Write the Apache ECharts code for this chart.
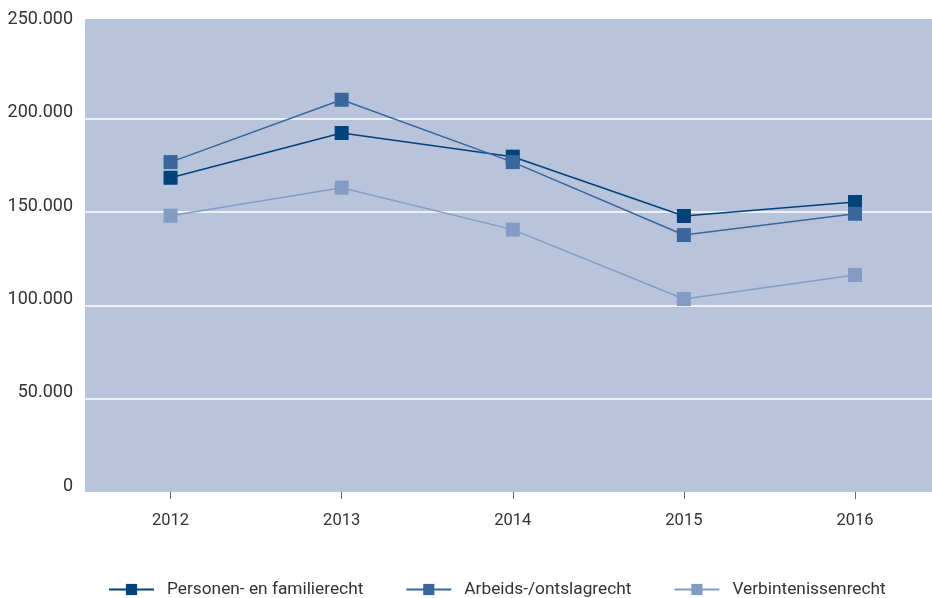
<!DOCTYPE html>
<html><head><meta charset="utf-8">
<script src="https://cdn.jsdelivr.net/npm/echarts@6/dist/echarts.min.js"></script>
<style>html,body{margin:0;padding:0;background:#fff}#c{width:932px;height:598px}</style>
</head><body><div id="c"></div>
<script>
const years = [2012, 2013, 2014, 2015, 2016];
const personen = [168400, 192400, 179700, 147900, 155400];
const arbeids = [176800, 210200, 176800, 137700, 149100];
const verbintenissen = [148100, 163100, 140600, 103400, 116300];
const seriesNames = ['Personen- en familierecht','Arbeids-/ontslagrecht','Verbintenissenrecht'];
const colors = ['#00427a','#3a679b','#849cc3'];
const FONT = '"Roboto", "Liberation Sans", sans-serif';
const chart = echarts.init(document.getElementById('c'), null, {renderer:'canvas'});
function mk(name, vals, color){
  return {name, type:'line', data: years.map((y,i)=>[y, vals[i]]), symbol:'rect', symbolSize:14,
    itemStyle:{color}, lineStyle:{color, width:1.5}, emphasis:{disabled:true}};
}
chart.setOption({
  animation:false,
  color: colors,
  graphic:[{type:'rect', left:85, top:19, z:-100, silent:true,
    shape:{width:847, height:473}, style:{fill:'#b8c4dc'}}],
  grid:{left:85, right:0, top:25.5, bottom:106, show:false},
  xAxis:{type:'value', min:2011.5, max:2016.45,
    axisLine:{show:false}, splitLine:{show:false},
    axisTick:{show:true, customValues:years, length:7, lineStyle:{color:'#666', width:1}},
    axisLabel:{color:'#333', fontSize:16.5, fontFamily:FONT, margin:20, customValues:years,
      formatter:v=>String(v)}},
  yAxis:{type:'value', min:0, max:250000, interval:50000,
    axisLine:{show:false}, axisTick:{show:false},
    splitLine:{showMaxLine:false, showMinLine:false, lineStyle:{color:'#ffffff', width:1.5}},
    axisLabel:{color:'#333', fontSize:18, lineHeight:12, fontFamily:FONT, margin:12, verticalAlign:'bottom',
      formatter:v=> v===0?'0':(v/1000).toFixed(0)+'.000'}},
  legend:{top:581, left:108, padding:0, itemWidth:45, itemHeight:14, itemGap:42,
    textStyle:{color:'#333', fontSize:17.3, fontFamily:FONT, padding:[0,0,0,8]},
    data:seriesNames},
  series:[mk(seriesNames[0], personen, colors[0]), mk(seriesNames[1], arbeids, colors[1]), mk(seriesNames[2], verbintenissen, colors[2])]
});
</script></body></html>
